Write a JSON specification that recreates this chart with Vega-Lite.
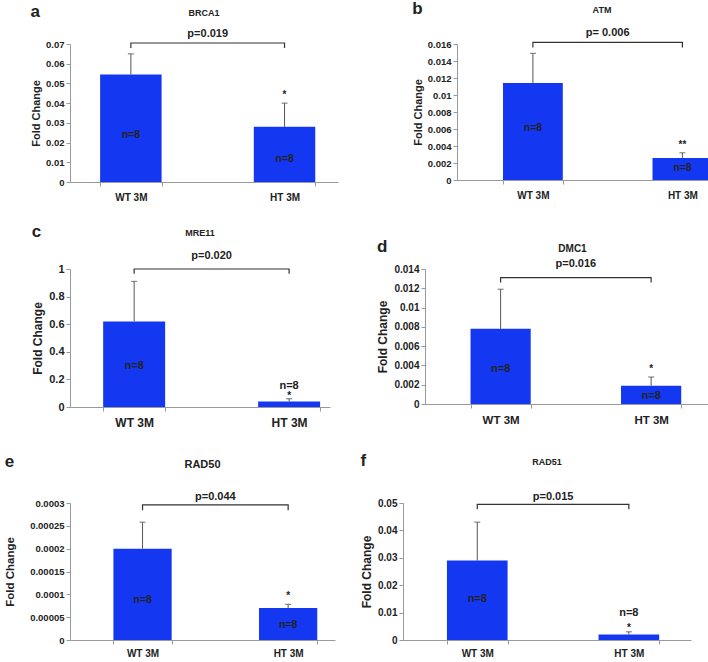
{
"$schema":"https://vega.github.io/schema/vega-lite/v6.json",
"background":"white",
"padding":{"left":4,"top":0,"right":2,"bottom":0},
"config":{"font":"Liberation Sans","view":{"stroke":null},
"axis":{"grid":false,"domainColor":"#999","tickColor":"#999","labelFontWeight":"bold","titleFontWeight":"bold","labelColor":"#222","titleColor":"#222","tickSize":4,"labelOverlap":false},
"title":{"fontWeight":"bold","color":"#222"},
"text":{"font":"Liberation Sans","fontWeight":"bold","color":"#222"}},
"spacing":21,
"vconcat":[
{"spacing":74,"hconcat":[
{"title":{"text":"a","anchor":"start","fontSize":17,"offset":-12},
"vconcat":[{"width":268,"height":138,
"title":{"text":"BRCA1","fontSize":9,"offset":10},
"data":{"values":[{"g":"WT 3M","mean":0.0545,"upper":0.065,"n":"n=8","ny":0.024,"star":""},{"g":"HT 3M","mean":0.028,"upper":0.040,"n":"n=8","ny":0.0115,"star":"*"}]},
"encoding":{"x":{"field":"g","type":"nominal","sort":["WT 3M","HT 3M"],"title":null,"scale":{"paddingInner":0.6,"paddingOuter":0.172,"align":0.57},"axis":{"labelAngle":0,"labelFontSize":10,"tickBand":"extent","labelPadding":6}}},
"layer":[
{"mark":{"type":"bar","color":"#1438F2"},"encoding":{"y":{"field":"mean","type":"quantitative","title":"Fold Change","scale":{"domain":[0,0.07],"nice":false},"axis":{"values":[0,0.01,0.02,0.03,0.04,0.05,0.06,0.07],"format":"~r","labelFontSize":9.5,"titleFontSize":11}}}},
{"mark":{"type":"rule","color":"#555"},"encoding":{"y":{"field":"mean","type":"quantitative","title":"Fold Change","axis":{"values":[0,0.01,0.02,0.03,0.04,0.05,0.06,0.07],"format":"~r","labelFontSize":9.5,"titleFontSize":11}},"y2":{"field":"upper"}}},
{"mark":{"type":"tick","color":"#555","size":6,"thickness":1.2},"encoding":{"y":{"field":"upper","type":"quantitative","title":"Fold Change","axis":{"values":[0,0.01,0.02,0.03,0.04,0.05,0.06,0.07],"format":"~r","labelFontSize":9.5,"titleFontSize":11}}}},
{"mark":{"type":"text","fontSize":10.5,"baseline":"middle"},"encoding":{"y":{"field":"ny","type":"quantitative","title":"Fold Change","axis":{"values":[0,0.01,0.02,0.03,0.04,0.05,0.06,0.07],"format":"~r","labelFontSize":9.5,"titleFontSize":11}},"text":{"field":"n"}}},
{"mark":{"type":"text","fontSize":10,"baseline":"bottom","dy":-3},"encoding":{"y":{"field":"upper","type":"quantitative","title":"Fold Change","axis":{"values":[0,0.01,0.02,0.03,0.04,0.05,0.06,0.07],"format":"~r","labelFontSize":9.5,"titleFontSize":11}},"text":{"field":"star"}}},
{"data":{"values":[{"g":"WT 3M","y":0.068,"o":1},{"g":"WT 3M","y":0.0705,"o":2},{"g":"HT 3M","y":0.0705,"o":3},{"g":"HT 3M","y":0.068,"o":4}]},"mark":{"type":"line","color":"#333","strokeWidth":1.2},"encoding":{"y":{"field":"y","type":"quantitative","title":"Fold Change","axis":{"values":[0,0.01,0.02,0.03,0.04,0.05,0.06,0.07],"format":"~r","labelFontSize":9.5,"titleFontSize":11}},"order":{"field":"o"}}},
{"data":{"values":[{"g":"WT 3M","y":0.0705,"p":"p=0.019"}]},"mark":{"type":"text","fontSize":11,"baseline":"bottom","dy":-4},"encoding":{"x":{"field":"g","type":"nominal","sort":["WT 3M","HT 3M"],"bandPosition":1.75},"y":{"field":"y","type":"quantitative","title":"Fold Change","axis":{"values":[0,0.01,0.02,0.03,0.04,0.05,0.06,0.07],"format":"~r","labelFontSize":9.5,"titleFontSize":11}},"text":{"field":"p"}}}
]}]},
{"title":{"text":"b","anchor":"start","fontSize":17,"offset":-12},
"vconcat":[{"width":290,"height":136,
"title":{"text":"ATM","fontSize":9,"offset":12},
"data":{"values":[{"g":"WT 3M","mean":0.0114,"upper":0.0149,"n":"n=8","ny":0.0061,"star":""},{"g":"HT 3M","mean":0.0026,"upper":0.0032,"n":"n=8","ny":0.0014,"star":"**"}]},
"encoding":{"x":{"field":"g","type":"nominal","sort":["WT 3M","HT 3M"],"title":null,"scale":{"paddingInner":0.6,"paddingOuter":0.27,"align":0.57},"axis":{"labelAngle":0,"labelFontSize":10,"tickBand":"extent","labelPadding":6}}},
"layer":[
{"mark":{"type":"bar","color":"#1438F2"},"encoding":{"y":{"field":"mean","type":"quantitative","title":"Fold Change","scale":{"domain":[0,0.016],"nice":false},"axis":{"values":[0,0.002,0.004,0.006,0.008,0.01,0.012,0.014,0.016],"format":"~r","labelFontSize":9.5,"titleFontSize":11}}}},
{"mark":{"type":"rule","color":"#555"},"encoding":{"y":{"field":"mean","type":"quantitative","title":"Fold Change","axis":{"values":[0,0.002,0.004,0.006,0.008,0.01,0.012,0.014,0.016],"format":"~r","labelFontSize":9.5,"titleFontSize":11}},"y2":{"field":"upper"}}},
{"mark":{"type":"tick","color":"#555","size":6,"thickness":1.2},"encoding":{"y":{"field":"upper","type":"quantitative","title":"Fold Change","axis":{"values":[0,0.002,0.004,0.006,0.008,0.01,0.012,0.014,0.016],"format":"~r","labelFontSize":9.5,"titleFontSize":11}}}},
{"mark":{"type":"text","fontSize":10.5,"baseline":"middle"},"encoding":{"y":{"field":"ny","type":"quantitative","title":"Fold Change","axis":{"values":[0,0.002,0.004,0.006,0.008,0.01,0.012,0.014,0.016],"format":"~r","labelFontSize":9.5,"titleFontSize":11}},"text":{"field":"n"}}},
{"mark":{"type":"text","fontSize":10,"baseline":"bottom","dy":-3},"encoding":{"y":{"field":"upper","type":"quantitative","title":"Fold Change","axis":{"values":[0,0.002,0.004,0.006,0.008,0.01,0.012,0.014,0.016],"format":"~r","labelFontSize":9.5,"titleFontSize":11}},"text":{"field":"star"}}},
{"data":{"values":[{"g":"WT 3M","y":0.0156,"o":1},{"g":"WT 3M","y":0.0162,"o":2},{"g":"HT 3M","y":0.0162,"o":3},{"g":"HT 3M","y":0.0156,"o":4}]},"mark":{"type":"line","color":"#333","strokeWidth":1.2},"encoding":{"y":{"field":"y","type":"quantitative","title":"Fold Change","axis":{"values":[0,0.002,0.004,0.006,0.008,0.01,0.012,0.014,0.016],"format":"~r","labelFontSize":9.5,"titleFontSize":11}},"order":{"field":"o"}}},
{"data":{"values":[{"g":"WT 3M","y":0.0162,"p":"p= 0.006"}]},"mark":{"type":"text","fontSize":11,"baseline":"bottom","dy":-4},"encoding":{"x":{"field":"g","type":"nominal","sort":["WT 3M","HT 3M"],"bandPosition":1.75},"y":{"field":"y","type":"quantitative","title":"Fold Change","axis":{"values":[0,0.002,0.004,0.006,0.008,0.01,0.012,0.014,0.016],"format":"~r","labelFontSize":9.5,"titleFontSize":11}},"text":{"field":"p"}}}
]}]}
]},
{"spacing":24,"vconcat":[
{"spacing":46,"hconcat":[
{"title":{"text":"c","anchor":"start","fontSize":17,"offset":-12},
"vconcat":[{"width":260,"height":138,
"title":{"text":"MRE11","fontSize":9,"offset":12},
"data":{"values":[{"g":"WT 3M","mean":0.62,"upper":0.91,"n":"n=8","ny":0.30,"star":""},{"g":"HT 3M","mean":0.04,"upper":0.06,"n":"n=8","ny":0.15,"star":"*"}]},
"encoding":{"x":{"field":"g","type":"nominal","sort":["WT 3M","HT 3M"],"title":null,"scale":{"paddingInner":0.6,"paddingOuter":0.139,"align":0.77},"axis":{"labelAngle":0,"labelFontSize":12,"tickBand":"extent","labelPadding":6}}},
"layer":[
{"mark":{"type":"bar","color":"#1438F2"},"encoding":{"y":{"field":"mean","type":"quantitative","title":"Fold Change","scale":{"domain":[0,1],"nice":false},"axis":{"values":[0,0.2,0.4,0.6,0.8,1],"format":"~r","labelFontSize":11,"titleFontSize":12}}}},
{"mark":{"type":"rule","color":"#555"},"encoding":{"y":{"field":"mean","type":"quantitative","title":"Fold Change","axis":{"values":[0,0.2,0.4,0.6,0.8,1],"format":"~r","labelFontSize":11,"titleFontSize":12}},"y2":{"field":"upper"}}},
{"mark":{"type":"tick","color":"#555","size":6,"thickness":1.2},"encoding":{"y":{"field":"upper","type":"quantitative","title":"Fold Change","axis":{"values":[0,0.2,0.4,0.6,0.8,1],"format":"~r","labelFontSize":11,"titleFontSize":12}}}},
{"mark":{"type":"text","fontSize":11,"baseline":"middle"},"encoding":{"y":{"field":"ny","type":"quantitative","title":"Fold Change","axis":{"values":[0,0.2,0.4,0.6,0.8,1],"format":"~r","labelFontSize":11,"titleFontSize":12}},"text":{"field":"n"}}},
{"mark":{"type":"text","fontSize":10,"baseline":"bottom","dy":2},"encoding":{"y":{"field":"upper","type":"quantitative","title":"Fold Change","axis":{"values":[0,0.2,0.4,0.6,0.8,1],"format":"~r","labelFontSize":11,"titleFontSize":12}},"text":{"field":"star"}}},
{"data":{"values":[{"g":"WT 3M","y":0.965,"o":1},{"g":"WT 3M","y":1.0,"o":2},{"g":"HT 3M","y":1.0,"o":3},{"g":"HT 3M","y":0.965,"o":4}]},"mark":{"type":"line","color":"#333","strokeWidth":1.2},"encoding":{"y":{"field":"y","type":"quantitative","title":"Fold Change","axis":{"values":[0,0.2,0.4,0.6,0.8,1],"format":"~r","labelFontSize":11,"titleFontSize":12}},"order":{"field":"o"}}},
{"data":{"values":[{"g":"WT 3M","y":1.0,"p":"p=0.020"}]},"mark":{"type":"text","fontSize":11,"baseline":"bottom","dy":-8},"encoding":{"x":{"field":"g","type":"nominal","sort":["WT 3M","HT 3M"],"bandPosition":1.75},"y":{"field":"y","type":"quantitative","title":"Fold Change","axis":{"values":[0,0.2,0.4,0.6,0.8,1],"format":"~r","labelFontSize":11,"titleFontSize":12}},"text":{"field":"p"}}}
]}]},
{"title":{"text":"d","anchor":"start","fontSize":17,"offset":-12},
"vconcat":[{"width":295,"height":135,
"title":{"text":"DMC1","fontSize":10,"offset":4},
"data":{"values":[{"g":"WT 3M","mean":0.0078,"upper":0.0119,"n":"n=8","ny":0.0036,"star":""},{"g":"HT 3M","mean":0.0019,"upper":0.0028,"n":"n=8","ny":0.0008,"star":"*"}]},
"encoding":{"x":{"field":"g","type":"nominal","sort":["WT 3M","HT 3M"],"title":null,"scale":{"paddingInner":0.6,"paddingOuter":0.28,"align":0.54},"axis":{"labelAngle":0,"labelFontSize":11.5,"tickBand":"extent","labelPadding":6}}},
"layer":[
{"mark":{"type":"bar","color":"#1438F2"},"encoding":{"y":{"field":"mean","type":"quantitative","title":"Fold Change","scale":{"domain":[0,0.014],"nice":false},"axis":{"values":[0,0.002,0.004,0.006,0.008,0.01,0.012,0.014],"format":"~r","labelFontSize":10,"titleFontSize":12}}}},
{"mark":{"type":"rule","color":"#555"},"encoding":{"y":{"field":"mean","type":"quantitative","title":"Fold Change","axis":{"values":[0,0.002,0.004,0.006,0.008,0.01,0.012,0.014],"format":"~r","labelFontSize":10,"titleFontSize":12}},"y2":{"field":"upper"}}},
{"mark":{"type":"tick","color":"#555","size":6,"thickness":1.2},"encoding":{"y":{"field":"upper","type":"quantitative","title":"Fold Change","axis":{"values":[0,0.002,0.004,0.006,0.008,0.01,0.012,0.014],"format":"~r","labelFontSize":10,"titleFontSize":12}}}},
{"mark":{"type":"text","fontSize":11,"baseline":"middle"},"encoding":{"y":{"field":"ny","type":"quantitative","title":"Fold Change","axis":{"values":[0,0.002,0.004,0.006,0.008,0.01,0.012,0.014],"format":"~r","labelFontSize":10,"titleFontSize":12}},"text":{"field":"n"}}},
{"mark":{"type":"text","fontSize":10,"baseline":"bottom","dy":-3},"encoding":{"y":{"field":"upper","type":"quantitative","title":"Fold Change","axis":{"values":[0,0.002,0.004,0.006,0.008,0.01,0.012,0.014],"format":"~r","labelFontSize":10,"titleFontSize":12}},"text":{"field":"star"}}},
{"data":{"values":[{"g":"WT 3M","y":0.0126,"o":1},{"g":"WT 3M","y":0.0131,"o":2},{"g":"HT 3M","y":0.0131,"o":3},{"g":"HT 3M","y":0.0126,"o":4}]},"mark":{"type":"line","color":"#333","strokeWidth":1.2},"encoding":{"y":{"field":"y","type":"quantitative","title":"Fold Change","axis":{"values":[0,0.002,0.004,0.006,0.008,0.01,0.012,0.014],"format":"~r","labelFontSize":10,"titleFontSize":12}},"order":{"field":"o"}}},
{"data":{"values":[{"g":"WT 3M","y":0.0131,"p":"p=0.016"}]},"mark":{"type":"text","fontSize":11,"baseline":"bottom","dy":-9},"encoding":{"x":{"field":"g","type":"nominal","sort":["WT 3M","HT 3M"],"bandPosition":1.75},"y":{"field":"y","type":"quantitative","title":"Fold Change","axis":{"values":[0,0.002,0.004,0.006,0.008,0.01,0.012,0.014],"format":"~r","labelFontSize":10,"titleFontSize":12}},"text":{"field":"p"}}}
]}]}
]},
{"spacing":25,"hconcat":[
{"title":{"text":"e","anchor":"start","fontSize":17,"offset":-12},
"vconcat":[{"width":265,"height":137,
"title":{"text":"RAD50","fontSize":11,"offset":21},
"data":{"values":[{"g":"WT 3M","mean":0.0002,"upper":0.000258,"n":"n=8","ny":0.000088,"star":""},{"g":"HT 3M","mean":0.00007,"upper":0.000078,"n":"n=8","ny":0.000033,"star":"*"}]},
"encoding":{"x":{"field":"g","type":"nominal","sort":["WT 3M","HT 3M"],"title":null,"scale":{"paddingInner":0.6,"paddingOuter":0.21,"align":0.71},"axis":{"labelAngle":0,"labelFontSize":10,"tickBand":"extent","labelPadding":4}}},
"layer":[
{"mark":{"type":"bar","color":"#1438F2"},"encoding":{"y":{"field":"mean","type":"quantitative","title":"Fold Change","scale":{"domain":[0,0.0003],"nice":false},"axis":{"values":[0,0.00005,0.0001,0.00015,0.0002,0.00025,0.0003],"format":"~r","labelFontSize":9.5,"titleFontSize":11.5,"titlePadding":14}}}},
{"mark":{"type":"rule","color":"#555"},"encoding":{"y":{"field":"mean","type":"quantitative","title":"Fold Change","axis":{"values":[0,0.00005,0.0001,0.00015,0.0002,0.00025,0.0003],"format":"~r","labelFontSize":9.5,"titleFontSize":11.5,"titlePadding":14}},"y2":{"field":"upper"}}},
{"mark":{"type":"tick","color":"#555","size":6,"thickness":1.2},"encoding":{"y":{"field":"upper","type":"quantitative","title":"Fold Change","axis":{"values":[0,0.00005,0.0001,0.00015,0.0002,0.00025,0.0003],"format":"~r","labelFontSize":9.5,"titleFontSize":11.5,"titlePadding":14}}}},
{"mark":{"type":"text","fontSize":10.5,"baseline":"middle"},"encoding":{"y":{"field":"ny","type":"quantitative","title":"Fold Change","axis":{"values":[0,0.00005,0.0001,0.00015,0.0002,0.00025,0.0003],"format":"~r","labelFontSize":9.5,"titleFontSize":11.5,"titlePadding":14}},"text":{"field":"n"}}},
{"mark":{"type":"text","fontSize":10,"baseline":"bottom","dy":-3},"encoding":{"y":{"field":"upper","type":"quantitative","title":"Fold Change","axis":{"values":[0,0.00005,0.0001,0.00015,0.0002,0.00025,0.0003],"format":"~r","labelFontSize":9.5,"titleFontSize":11.5,"titlePadding":14}},"text":{"field":"star"}}},
{"data":{"values":[{"g":"WT 3M","y":0.000284,"o":1},{"g":"WT 3M","y":0.000296,"o":2},{"g":"HT 3M","y":0.000296,"o":3},{"g":"HT 3M","y":0.000284,"o":4}]},"mark":{"type":"line","color":"#333","strokeWidth":1.2},"encoding":{"y":{"field":"y","type":"quantitative","title":"Fold Change","axis":{"values":[0,0.00005,0.0001,0.00015,0.0002,0.00025,0.0003],"format":"~r","labelFontSize":9.5,"titleFontSize":11.5,"titlePadding":14}},"order":{"field":"o"}}},
{"data":{"values":[{"g":"WT 3M","y":0.000296,"p":"p=0.044"}]},"mark":{"type":"text","fontSize":11,"baseline":"bottom","dy":-3},"encoding":{"x":{"field":"g","type":"nominal","sort":["WT 3M","HT 3M"],"bandPosition":1.75},"y":{"field":"y","type":"quantitative","title":"Fold Change","axis":{"values":[0,0.00005,0.0001,0.00015,0.0002,0.00025,0.0003],"format":"~r","labelFontSize":9.5,"titleFontSize":11.5,"titlePadding":14}},"text":{"field":"p"}}}
]}]},
{"title":{"text":"f","anchor":"start","fontSize":17,"offset":-12},
"vconcat":[{"width":288,"height":137,
"title":{"text":"RAD51","fontSize":9,"offset":24},
"data":{"values":[{"g":"WT 3M","mean":0.029,"upper":0.043,"n":"n=8","ny":0.015,"star":""},{"g":"HT 3M","mean":0.002,"upper":0.003,"n":"n=8","ny":0.0098,"star":"*"}]},
"encoding":{"x":{"field":"g","type":"nominal","sort":["WT 3M","HT 3M"],"title":null,"scale":{"paddingInner":0.6,"paddingOuter":0.25,"align":0.58},"axis":{"labelAngle":0,"labelFontSize":10,"tickBand":"extent","labelPadding":4}}},
"layer":[
{"mark":{"type":"bar","color":"#1438F2"},"encoding":{"y":{"field":"mean","type":"quantitative","title":"Fold Change","scale":{"domain":[0,0.05],"nice":false},"axis":{"values":[0,0.01,0.02,0.03,0.04,0.05],"format":"~r","labelFontSize":10,"titleFontSize":12}}}},
{"mark":{"type":"rule","color":"#555"},"encoding":{"y":{"field":"mean","type":"quantitative","title":"Fold Change","axis":{"values":[0,0.01,0.02,0.03,0.04,0.05],"format":"~r","labelFontSize":10,"titleFontSize":12}},"y2":{"field":"upper"}}},
{"mark":{"type":"tick","color":"#555","size":6,"thickness":1.2},"encoding":{"y":{"field":"upper","type":"quantitative","title":"Fold Change","axis":{"values":[0,0.01,0.02,0.03,0.04,0.05],"format":"~r","labelFontSize":10,"titleFontSize":12}}}},
{"mark":{"type":"text","fontSize":11,"baseline":"middle"},"encoding":{"y":{"field":"ny","type":"quantitative","title":"Fold Change","axis":{"values":[0,0.01,0.02,0.03,0.04,0.05],"format":"~r","labelFontSize":10,"titleFontSize":12}},"text":{"field":"n"}}},
{"mark":{"type":"text","fontSize":10,"baseline":"bottom","dy":1},"encoding":{"y":{"field":"upper","type":"quantitative","title":"Fold Change","axis":{"values":[0,0.01,0.02,0.03,0.04,0.05],"format":"~r","labelFontSize":10,"titleFontSize":12}},"text":{"field":"star"}}},
{"data":{"values":[{"g":"WT 3M","y":0.0477,"o":1},{"g":"WT 3M","y":0.0495,"o":2},{"g":"HT 3M","y":0.0495,"o":3},{"g":"HT 3M","y":0.0477,"o":4}]},"mark":{"type":"line","color":"#333","strokeWidth":1.2},"encoding":{"y":{"field":"y","type":"quantitative","title":"Fold Change","axis":{"values":[0,0.01,0.02,0.03,0.04,0.05],"format":"~r","labelFontSize":10,"titleFontSize":12}},"order":{"field":"o"}}},
{"data":{"values":[{"g":"WT 3M","y":0.0495,"p":"p=0.015"}]},"mark":{"type":"text","fontSize":11,"baseline":"bottom","dy":-2},"encoding":{"x":{"field":"g","type":"nominal","sort":["WT 3M","HT 3M"],"bandPosition":1.75},"y":{"field":"y","type":"quantitative","title":"Fold Change","axis":{"values":[0,0.01,0.02,0.03,0.04,0.05],"format":"~r","labelFontSize":10,"titleFontSize":12}},"text":{"field":"p"}}}
]}]}
]}
]}
]
}
